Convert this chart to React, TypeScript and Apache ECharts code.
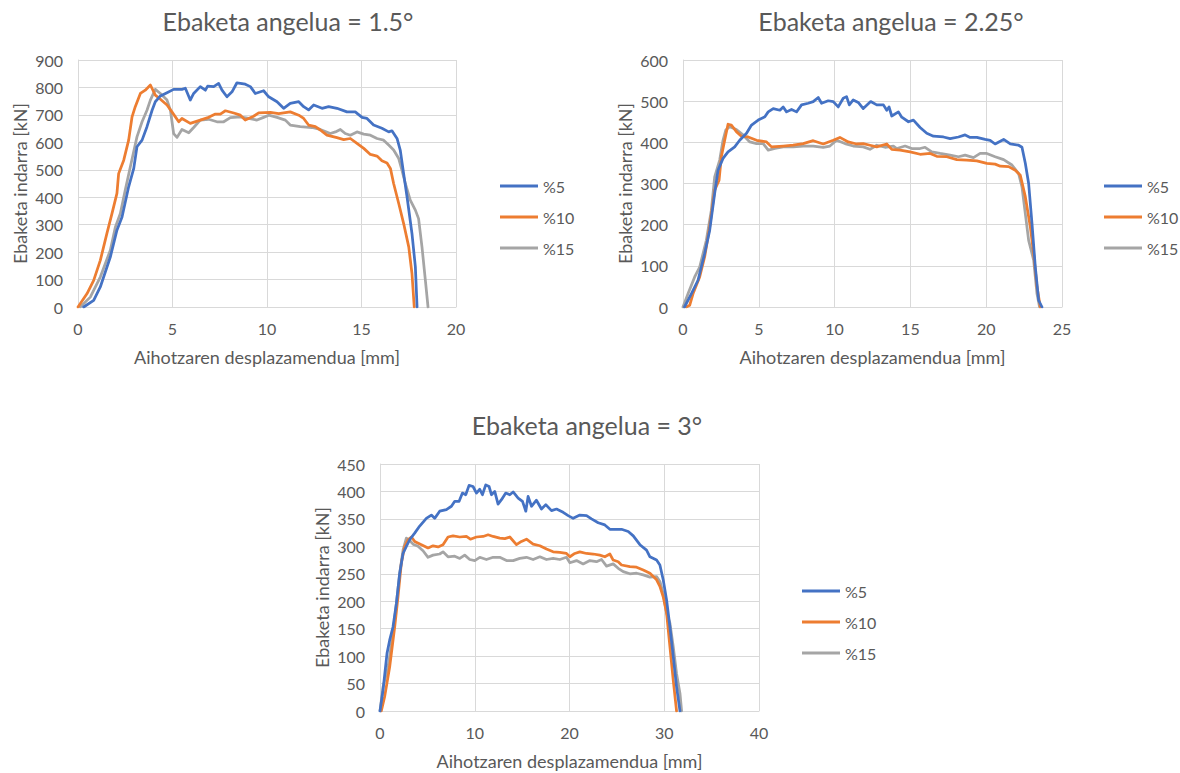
import React, { useEffect, useRef } from "react";
import * as echarts from "echarts";

const seriesNames = ["%5", "%10", "%15"];
const colors = ["#4472C4", "#ED7D31", "#A5A5A5"];
const titles = ["Ebaketa angelua = 1.5°", "Ebaketa angelua = 2.25°", "Ebaketa angelua = 3°"];
const xAxisName = "Aihotzaren desplazamendua [mm]";
const yAxisName = "Ebaketa indarra [kN]";

// Chart 1: angle 1.5°
const c1p5: number[][] = [
  [0.3, 0], [0.83, 24], [1.18, 73], [1.71, 182], [2.06, 280], [2.33, 328], [2.68, 438], [2.95, 505],
  [3.12, 584], [3.39, 608], [3.65, 657], [3.92, 717], [4.09, 748], [4.36, 769], [4.71, 781], [5.06, 793],
  [5.5, 793], [5.68, 797], [5.94, 754], [6.12, 778], [6.47, 803], [6.74, 790], [6.86, 805], [7.18, 803],
  [7.44, 815], [7.62, 790], [7.88, 766], [8.15, 784], [8.41, 817], [8.85, 812], [9.12, 803], [9.38, 778],
  [9.82, 788], [10.09, 766], [10.53, 748], [10.88, 724], [11.23, 742], [11.68, 748], [11.94, 730],
  [12.2, 718], [12.47, 736], [12.91, 724], [13.26, 730], [13.7, 724], [14.23, 711], [14.67, 711],
  [15.03, 691], [15.29, 687], [15.64, 663], [16.08, 651], [16.44, 638], [16.61, 642], [16.88, 614],
  [17.05, 572], [17.23, 486], [17.41, 401], [17.67, 268], [17.85, 146], [17.94, 0]
];
const c1p10: number[][] = [
  [0, 0], [0.48, 49], [0.83, 97], [1.18, 170], [1.53, 268], [1.8, 341], [2.06, 414], [2.15, 486],
  [2.42, 535], [2.68, 608], [2.86, 693], [3.03, 730], [3.3, 778], [3.56, 790], [3.83, 809], [4.09, 772],
  [4.36, 757], [4.71, 736], [4.97, 711], [5.33, 675], [5.5, 687], [5.94, 669], [6.47, 681], [6.91, 691],
  [7.27, 703], [7.53, 703], [7.8, 715], [8.24, 707], [8.59, 699], [8.85, 681], [9.29, 695], [9.56, 707],
  [10.18, 709], [10.62, 705], [11.23, 711], [11.68, 699], [11.94, 687], [12.2, 663], [12.56, 657],
  [12.82, 645], [13.17, 626], [13.7, 617], [14.06, 610], [14.41, 614], [14.76, 596], [15.12, 578],
  [15.47, 556], [15.82, 550], [16.08, 533], [16.35, 525], [16.53, 505], [16.7, 450], [16.97, 377],
  [17.23, 304], [17.5, 219], [17.67, 122], [17.79, 0]
];
const c1p15: number[][] = [
  [0.12, 0], [0.65, 36], [1.18, 109], [1.71, 207], [1.98, 292], [2.24, 341], [2.5, 426], [2.77, 511],
  [3.12, 620], [3.39, 675], [3.65, 717], [3.83, 754], [4.09, 793], [4.36, 778], [4.71, 754], [4.89, 717],
  [5.06, 632], [5.24, 618], [5.5, 647], [5.86, 635], [6.12, 654], [6.47, 681], [6.91, 684], [7.35, 675],
  [7.71, 675], [8.06, 690], [8.59, 693], [9.03, 687], [9.47, 681], [9.82, 691], [10.09, 699], [10.53, 691],
  [10.97, 681], [11.23, 663], [11.76, 657], [12.38, 654], [12.82, 647], [13.35, 632], [13.62, 638],
  [13.88, 647], [14.14, 632], [14.41, 626], [14.76, 638], [15.12, 630], [15.47, 626], [15.82, 614],
  [16.17, 608], [16.44, 590], [16.7, 572], [16.97, 541], [17.14, 499], [17.32, 450], [17.58, 389],
  [17.85, 353], [18.02, 322], [18.2, 219], [18.38, 97], [18.52, 0]
];

// Chart 2: angle 2.25°
const c2p5: number[][] = [
  [0.1, 0], [0.55, 32], [0.99, 65], [1.43, 130], [1.76, 186], [2.09, 276], [2.31, 332], [2.64, 361],
  [2.97, 377], [3.41, 389], [3.74, 405], [4.19, 422], [4.52, 442], [4.96, 454], [5.4, 462], [5.62, 474],
  [5.95, 482], [6.39, 478], [6.61, 486], [6.83, 474], [7.16, 480], [7.49, 474], [7.82, 491], [8.26, 495],
  [8.59, 499], [8.92, 509], [9.14, 495], [9.58, 501], [9.91, 499], [10.24, 486], [10.57, 507], [10.79, 511],
  [10.97, 491], [11.23, 503], [11.56, 497], [11.89, 482], [12.38, 499], [12.78, 491], [13.22, 491],
  [13.44, 478], [13.59, 486], [13.77, 464], [14.21, 474], [14.43, 461], [14.87, 450], [15.2, 454],
  [15.64, 436], [16.08, 422], [16.52, 415], [17.18, 413], [17.62, 409], [18.17, 413], [18.61, 418],
  [18.94, 412], [19.38, 412], [19.93, 407], [20.26, 405], [20.59, 396], [21.15, 407], [21.59, 396],
  [22.14, 393], [22.36, 388], [22.58, 349], [22.8, 300], [23.02, 203], [23.24, 97], [23.46, 16], [23.68, 0]
];
const c2p10: number[][] = [
  [0.22, 0], [0.44, 4], [0.66, 32], [1.1, 73], [1.43, 122], [1.76, 195], [2.09, 284], [2.38, 308],
  [2.53, 365], [2.75, 405], [2.97, 444], [3.19, 442], [3.52, 426], [3.85, 415], [4.3, 413], [4.85, 405],
  [5.51, 401], [5.84, 389], [6.61, 391], [7.27, 393], [7.93, 397], [8.59, 404], [9.25, 396], [9.91, 405],
  [10.35, 412], [10.9, 401], [11.45, 396], [11.89, 397], [12.33, 393], [12.78, 389], [13.44, 396],
  [13.77, 383], [14.32, 381], [14.98, 377], [15.64, 371], [16.3, 373], [16.74, 366], [17.4, 365],
  [18.06, 358], [18.72, 357], [19.38, 355], [20.04, 349], [20.59, 347], [20.93, 342], [21.48, 341],
  [21.92, 332], [22.25, 320], [22.58, 268], [22.91, 195], [23.13, 130], [23.35, 49], [23.57, 0]
];
const c2p15: number[][] = [
  [0, 0], [0.33, 32], [0.77, 73], [1.1, 97], [1.54, 162], [1.87, 235], [2.09, 316], [2.42, 357],
  [2.64, 405], [2.82, 430], [3.08, 438], [3.52, 431], [3.96, 418], [4.41, 401], [4.85, 397], [5.29, 397],
  [5.62, 381], [6.06, 385], [6.61, 389], [7.27, 389], [7.93, 391], [8.59, 391], [9.25, 388], [9.69, 391],
  [10.13, 405], [10.68, 397], [11.23, 391], [11.89, 389], [12.33, 383], [12.78, 393], [13.33, 388],
  [13.88, 391], [14.1, 385], [14.65, 391], [15.09, 385], [15.64, 385], [15.97, 388], [16.41, 377],
  [16.96, 373], [17.62, 369], [18.17, 365], [18.61, 369], [19.16, 363], [19.6, 373], [20.04, 373],
  [20.59, 365], [21.15, 358], [21.7, 345], [22.14, 324], [22.36, 292], [22.58, 227], [22.8, 162],
  [23.13, 114], [23.35, 32], [23.52, 0]
];

// Chart 3: angle 3°
const c3p5: number[][] = [
  [0, 0], [0.32, 38], [0.74, 105], [1.02, 129], [1.37, 153], [1.73, 196], [2.08, 251], [2.43, 287],
  [2.78, 300], [3.13, 312], [3.66, 324], [4.19, 337], [4.89, 351], [5.42, 357], [5.77, 351], [6.3, 364],
  [7.01, 367], [7.54, 373], [7.89, 382], [8.35, 382], [8.7, 397], [9.05, 394], [9.4, 411], [9.82, 409],
  [10.18, 397], [10.53, 404], [10.81, 394], [11.16, 412], [11.51, 409], [11.76, 394], [12.11, 400],
  [12.46, 377], [12.82, 385], [13.27, 397], [13.7, 394], [14.05, 399], [14.58, 388], [15.04, 382],
  [15.39, 364], [15.63, 391], [15.99, 373], [16.51, 384], [17.04, 368], [17.5, 376], [18.1, 365],
  [18.63, 368], [19.33, 362], [19.86, 356], [20.39, 351], [21.09, 357], [21.8, 356], [22.32, 350],
  [23.03, 343], [23.73, 339], [24.26, 331], [24.79, 331], [25.49, 331], [26.2, 327], [26.73, 319],
  [27.43, 303], [28.13, 293], [28.49, 281], [29.19, 275], [29.54, 266], [29.89, 239], [30.25, 202],
  [30.6, 153], [30.95, 99], [31.3, 44], [31.66, 0]
];
const c3p10: number[][] = [
  [0.14, 0], [0.49, 26], [1.02, 80], [1.55, 153], [1.9, 208], [2.25, 269], [2.61, 300], [2.96, 312],
  [3.31, 317], [3.66, 309], [4.37, 303], [5.07, 297], [5.6, 301], [6.13, 299], [6.65, 303], [7.18, 317],
  [7.71, 319], [8.42, 317], [9.12, 318], [9.54, 313], [10.18, 317], [10.88, 318], [11.41, 321],
  [11.94, 318], [12.64, 315], [13.17, 314], [13.7, 317], [14.4, 303], [14.93, 309], [15.46, 313],
  [16.16, 304], [16.87, 301], [17.57, 295], [18.27, 290], [18.98, 289], [19.68, 287], [20.04, 281],
  [20.56, 287], [21.09, 290], [21.8, 287], [22.5, 286], [23.2, 284], [23.73, 281], [24.26, 286],
  [24.61, 275], [25.14, 272], [25.49, 266], [26.37, 263], [27.08, 262], [27.78, 257], [28.49, 251],
  [29.19, 239], [29.54, 227], [29.89, 208], [30.25, 178], [30.6, 117], [30.95, 56], [31.3, 0]
];
const c3p15: number[][] = [
  [0, 0], [0.32, 44], [0.85, 80], [1.37, 141], [1.73, 196], [2.08, 251], [2.43, 293], [2.78, 315],
  [3.06, 312], [3.49, 304], [4.01, 300], [4.54, 292], [5.07, 280], [5.6, 284], [6.3, 286], [6.65, 290],
  [7.18, 281], [7.89, 282], [8.42, 278], [8.94, 284], [9.47, 276], [10.0, 274], [10.53, 280], [11.23, 276],
  [11.94, 280], [12.64, 280], [13.35, 274], [14.05, 274], [14.75, 278], [15.46, 280], [16.16, 276],
  [16.87, 281], [17.57, 276], [18.27, 278], [18.98, 276], [19.68, 280], [20.04, 270], [20.74, 274],
  [21.44, 268], [22.15, 274], [22.85, 272], [23.38, 276], [23.91, 264], [24.61, 268], [25.14, 260],
  [25.67, 254], [26.37, 250], [27.08, 251], [27.78, 248], [28.49, 244], [29.19, 245], [29.54, 236],
  [29.89, 214], [30.25, 178], [30.6, 160], [30.95, 117], [31.3, 68], [31.66, 32], [31.83, 0]
];

const xMax = [20, 25, 40];
const xStep = [5, 5, 10];
const yMax = [900, 600, 450];
const yStep = [100, 100, 50];
const chartData = [
  [c1p5, c1p10, c1p15],
  [c2p5, c2p10, c2p15],
  [c3p5, c3p10, c3p15],
];

const FONT = "Lato, 'Open Sans', sans-serif";
const TXT = "#595959";
const GRID_C = "#D9D9D9";

// layout: plot rectangles
const grids = [
  { left: 78, top: 60, width: 378, height: 247 },
  { left: 683, top: 60, width: 379, height: 247 },
  { left: 380, top: 464, width: 379, height: 247 },
];
const titlePos = [
  { x: 283, y: 3 },
  { x: 886, y: 3 },
  { x: 582, y: 407 },
];
const legendPos = [
  { left: 495, top: 173 },
  { left: 1099, top: 173 },
  { left: 797, top: 578 },
];

export default function App() {
  const ref = useRef<HTMLDivElement>(null);
  useEffect(() => {
    if (!ref.current) return;
    const chart = echarts.init(ref.current, undefined, { renderer: "svg" });
    const series: any[] = [];
    chartData.forEach((group, gi) => {
      group.forEach((d, si) => {
        series.push({
          name: seriesNames[si],
          type: "line",
          xAxisIndex: gi,
          yAxisIndex: gi,
          data: d,
          showSymbol: false,
          symbol: "none",
          smooth: false,
          lineStyle: { color: colors[si], width: 2.75, join: "round", cap: "round" },
          itemStyle: { color: colors[si] },
          z: 3 - si,
        });
      });
    });
    chart.setOption({
      animation: false,
      backgroundColor: "#ffffff",
      textStyle: { fontFamily: FONT },
      title: titles.map((t, i) => ({
        text: t,
        left: titlePos[i].x,
        top: titlePos[i].y,
        textAlign: "center",
        textStyle: { fontFamily: FONT, fontSize: 25, fontWeight: "normal", color: TXT },
      })),
      legend: legendPos.map((p) => ({
        orient: "vertical",
        left: p.left,
        top: p.top,
        data: seriesNames,
        icon: "rect",
        itemWidth: 38,
        itemHeight: 3,
        itemGap: 15,
        selectedMode: false,
        textStyle: { fontFamily: FONT, fontSize: 16, color: TXT },
      })),
      grid: grids.map((g) => ({ ...g, containLabel: false })),
      xAxis: grids.map((_, i) => ({
        type: "value",
        gridIndex: i,
        min: 0,
        max: xMax[i],
        interval: xStep[i],
        name: xAxisName,
        nameLocation: "middle",
        nameGap: 41,
        nameTextStyle: { fontFamily: FONT, fontSize: 18, color: TXT },
        axisLine: { show: true, lineStyle: { color: GRID_C, width: 1 } },
        axisTick: { show: false },
        axisLabel: { fontFamily: FONT, fontSize: 16, color: TXT, margin: 13 },
        splitLine: { show: true, lineStyle: { color: GRID_C, width: 1 } },
      })),
      yAxis: grids.map((_, i) => ({
        type: "value",
        gridIndex: i,
        min: 0,
        max: yMax[i],
        interval: yStep[i],
        name: yAxisName,
        nameLocation: "middle",
        nameGap: 49,
        nameRotate: 90,
        nameTextStyle: { fontFamily: FONT, fontSize: 18, color: TXT },
        axisLine: { show: true, lineStyle: { color: GRID_C, width: 1 } },
        axisTick: { show: false },
        axisLabel: { fontFamily: FONT, fontSize: 16, color: TXT, margin: 15 },
        splitLine: { show: true, lineStyle: { color: GRID_C, width: 1 } },
      })),
      series,
    });
    return () => chart.dispose();
  }, []);
  return (
    <div
      ref={ref}
      style={{ position: "fixed", left: 0, top: 0, width: 1180, height: 773, background: "#fff" }}
    />
  );
}
